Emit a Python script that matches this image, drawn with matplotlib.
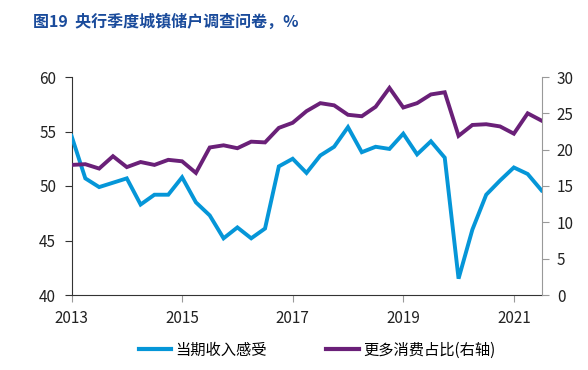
import matplotlib
matplotlib.use("Agg")
import matplotlib.pyplot as plt
from matplotlib.lines import Line2D

plt.rcParams['font.family'] = ['Noto Sans CJK SC', 'DejaVu Sans']

quarters = list(range(35))  # 2013Q1 .. 2021Q3
income_feeling = [54.6, 50.7, 49.9, 50.3, 50.7, 48.3, 49.2, 49.2, 50.8, 48.5,
                  47.3, 45.2, 46.2, 45.2, 46.1, 51.8, 52.5, 51.2, 52.8, 53.6,
                  55.4, 53.1, 53.6, 53.4, 54.8, 52.9, 54.1, 52.6, 41.5, 46.0,
                  49.2, 50.5, 51.7, 51.1, 49.6]
more_consumption = [17.9, 18.0, 17.4, 19.1, 17.6, 18.3, 17.9, 18.6, 18.4, 16.8,
                    20.3, 20.6, 20.2, 21.1, 21.0, 23.0, 23.7, 25.3, 26.4, 26.1,
                    24.8, 24.6, 25.9, 28.5, 25.8, 26.4, 27.6, 27.9, 21.9, 23.4,
                    23.5, 23.2, 22.2, 25.0, 24.0]
year_ticks = [0, 8, 16, 24, 32]
year_labels = ['2013', '2015', '2017', '2019', '2021']
title = '图19  央行季度城镇储户调查问卷，%'
label_income = '当期收入感受'
label_consume = '更多消费占比(右轴)'

blue = '#0596D8'
purple = '#6A2078'

fig = plt.figure(figsize=(5.88, 3.70), dpi=100)
ax = fig.add_axes([71.5/588, 1-295/370, (541.5-71.5)/588, (295-77)/370])
ax2 = ax.twinx()

ax.plot(quarters, income_feeling, color=blue, lw=2.8, solid_joinstyle='miter', zorder=3)
ax2.plot(quarters, more_consumption, color=purple, lw=2.8, solid_joinstyle='miter', zorder=3)

ax.set_xlim(0, 34)
ax.set_ylim(40, 60)
ax.set_yticks([40, 45, 50, 55, 60])
ax2.set_ylim(0, 30)
ax2.set_yticks([0, 5, 10, 15, 20, 25, 30])
ax.set_xticks(year_ticks)
ax.set_xticklabels(year_labels)

for a in (ax, ax2):
    a.spines['top'].set_visible(False)
    a.set_facecolor('none')
ax.spines['left'].set_color('#333333')
ax.spines['bottom'].set_color('#333333')
ax.spines['right'].set_visible(False)
ax2.spines['left'].set_visible(False)
ax2.spines['bottom'].set_visible(False)
ax2.spines['right'].set_color('#999999')

ax.tick_params(axis='y', direction='out', length=5, color='#333333', labelsize=11, pad=6, labelcolor='#222222')
ax.tick_params(axis='x', direction='out', length=5, color='#999999', labelsize=11, pad=6, labelcolor='#222222')
ax2.tick_params(axis='y', direction='out', length=5, color='#999999', labelsize=11, pad=6, labelcolor='#222222')

fig.text(33/588, 1-22/370, title, color='#1A4B9B', fontsize=11.5, fontweight='bold', va='center', ha='left')

handles = [Line2D([0], [0], color=blue, lw=3), Line2D([0], [0], color=purple, lw=3)]
fig.legend(handles, [label_income, label_consume], loc='center', bbox_to_anchor=(317/588, 1-350/370),
           ncol=2, frameon=False, fontsize=11, handlelength=2.1, handletextpad=0.3, columnspacing=3.9)

fig.savefig('out.png', dpi=100)
